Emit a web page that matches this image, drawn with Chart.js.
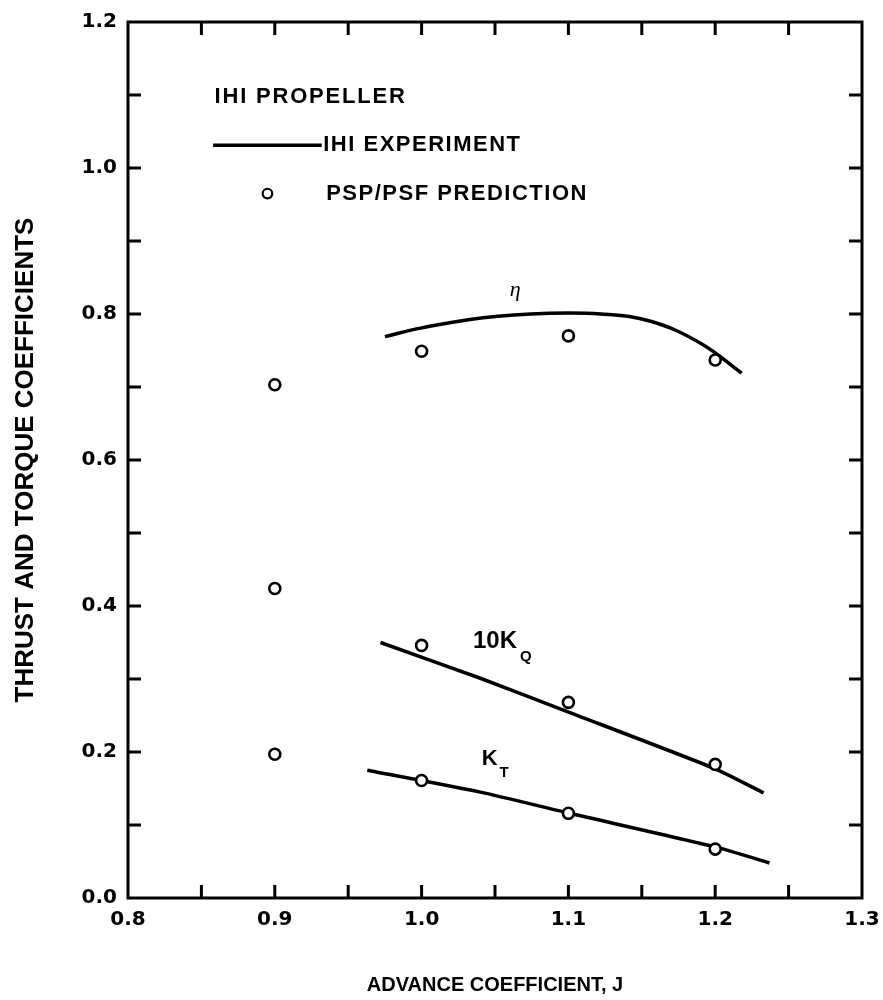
<!DOCTYPE html>
<html>
<head>
<meta charset="utf-8">
<script src="https://cdn.jsdelivr.net/npm/chart.js@4"></script>
<style>
  html, body { margin: 0; padding: 0; background: #fff; }
</style>
</head>
<body>
<canvas id="myChart" width="883" height="1000"></canvas>
<script>
// PSP/PSF prediction (circles)
const predJ = [0.9, 1.0, 1.1, 1.2]
const predEta = [0.703, 0.749, 0.770, 0.737]
const predKQ10 = [0.424, 0.346, 0.268, 0.183]
const predKT = [0.197, 0.161, 0.116, 0.067]

// IHI experiment (curves)
const expEtaJ = [0.975, 1.0, 1.042, 1.087, 1.122, 1.156, 1.19, 1.218]
const expEta = [0.769, 0.781, 0.795, 0.801, 0.800, 0.790, 0.760, 0.719]
const expKQ10J = [0.972, 1.040, 1.101, 1.2, 1.233]
const expKQ10 = [0.350, 0.301, 0.254, 0.177, 0.144]
const expKTJ = [0.963, 1.040, 1.101, 1.2, 1.237]
const expKT = [0.175, 0.145, 0.116, 0.070, 0.048]

const xTicks = [0.8, 0.9, 1.0, 1.1, 1.2, 1.3]
const yTicks = [0.0, 0.2, 0.4, 0.6, 0.8, 1.0, 1.2]

const FONT = '"Liberation Sans", Arial, sans-serif'
const TICKFONT = '"DejaVu Sans", sans-serif'
const pts = (xs, ys) => xs.map((v, i) => ({ x: v, y: ys[i] }))

const frame = {
    id: 'frame',
    afterDraw(chart) {
        const { ctx, chartArea: a, scales: { x, y } } = chart
        ctx.save()
        ctx.strokeStyle = '#000'
        ctx.fillStyle = '#000'
        ctx.lineWidth = 3
        ctx.strokeRect(a.left, a.top, a.right - a.left, a.bottom - a.top)

        // inward tick marks on all four sides
        ctx.beginPath()
        for (let v = 0.85; v < 1.29; v += 0.05) {
            const px = x.getPixelForValue(v)
            ctx.moveTo(px, a.bottom); ctx.lineTo(px, a.bottom - 13)
            ctx.moveTo(px, a.top); ctx.lineTo(px, a.top + 13)
        }
        for (let v = 0.1; v < 1.19; v += 0.1) {
            const py = y.getPixelForValue(v)
            ctx.moveTo(a.left, py); ctx.lineTo(a.left + 13, py)
            ctx.moveTo(a.right, py); ctx.lineTo(a.right - 13, py)
        }
        ctx.stroke()

        // legend
        ctx.textBaseline = 'middle'
        ctx.textAlign = 'left'
        ctx.font = 'bold 22px ' + FONT
        ctx.letterSpacing = '1.8px'
        ctx.fillText('IHI PROPELLER', x.getPixelForValue(0.859), y.getPixelForValue(1.097))
        ctx.lineWidth = 3.5
        ctx.beginPath()
        ctx.moveTo(x.getPixelForValue(0.858), y.getPixelForValue(1.031))
        ctx.lineTo(x.getPixelForValue(0.932), y.getPixelForValue(1.031))
        ctx.stroke()
        ctx.letterSpacing = '1.5px'
        ctx.fillText('IHI EXPERIMENT', x.getPixelForValue(0.933), y.getPixelForValue(1.031))
        ctx.lineWidth = 2.2
        ctx.beginPath()
        ctx.arc(x.getPixelForValue(0.895), y.getPixelForValue(0.965), 4.8, 0, Math.PI * 2)
        ctx.stroke()
        ctx.fillText('PSP/PSF PREDICTION', x.getPixelForValue(0.935), y.getPixelForValue(0.965))
        ctx.letterSpacing = '0px'

        // curve labels
        ctx.font = 'italic 22px "Liberation Serif", serif'
        ctx.fillText('η', x.getPixelForValue(1.060), y.getPixelForValue(0.833))
        ctx.font = 'bold 24px ' + FONT
        ctx.fillText('10K', x.getPixelForValue(1.035), y.getPixelForValue(0.352))
        ctx.font = 'bold 22px ' + FONT
        ctx.fillText('K', x.getPixelForValue(1.041), y.getPixelForValue(0.190))
        ctx.font = 'bold 15px ' + FONT
        ctx.fillText('Q', x.getPixelForValue(1.067), y.getPixelForValue(0.330))
        ctx.fillText('T', x.getPixelForValue(1.053), y.getPixelForValue(0.171))
        ctx.restore()
    }
}

const lineStyle = {
    type: 'line',
    showLine: true,
    borderColor: '#000',
    borderWidth: 3.5,
    pointRadius: 0,
    fill: false,
    order: 2,
}
const dotStyle = {
    type: 'scatter',
    pointStyle: 'circle',
    pointRadius: 5.5,
    pointBorderWidth: 2.6,
    borderColor: '#000',
    backgroundColor: '#fff',
    order: 1,
}

const ctx = document.getElementById('myChart')

const myChart = new Chart(ctx, {
    data: {
        datasets: [
            { ...dotStyle, label: 'eta prediction', data: pts(predJ, predEta) },
            { ...dotStyle, label: '10KQ prediction', data: pts(predJ, predKQ10) },
            { ...dotStyle, label: 'KT prediction', data: pts(predJ, predKT) },
            { ...lineStyle, label: 'eta experiment', data: pts(expEtaJ, expEta), tension: 0.4 },
            { ...lineStyle, label: '10KQ experiment', data: pts(expKQ10J, expKQ10), tension: 0.2 },
            { ...lineStyle, label: 'KT experiment', data: pts(expKTJ, expKT), tension: 0.2 },
        ]
    },
    options: {
        responsive: false,
        animation: false,
        layout: { padding: { top: 22, right: 21, left: 0, bottom: 0 } },
        plugins: {
            legend: { display: false },
            tooltip: { enabled: false },
        },
        scales: {
            x: {
                type: 'linear',
                min: 0.8,
                max: 1.3,
                afterFit: s => { s.height = 102; s.paddingLeft = 0; s.paddingRight = 0 },
                afterBuildTicks: s => { s.ticks = xTicks.map(v => ({ value: v })) },
                grid: { display: false, drawTicks: false },
                border: { display: false },
                ticks: {
                    padding: 10,
                    color: '#000',
                    font: { family: TICKFONT, size: 20, weight: 'bold' },
                    callback: v => v.toFixed(1),
                },
                title: {
                    display: true,
                    text: 'ADVANCE COEFFICIENT, J',
                    color: '#000',
                    font: { family: FONT, size: 20, weight: 'bold' },
                    padding: { top: 3, bottom: 3 },
                },
            },
            y: {
                type: 'linear',
                min: 0,
                max: 1.2,
                afterFit: s => { s.width = 128; s.paddingTop = 0; s.paddingBottom = 0 },
                afterBuildTicks: s => { s.ticks = yTicks.map(v => ({ value: v })) },
                grid: { display: false, drawTicks: false },
                border: { display: false },
                ticks: {
                    padding: 11,
                    color: '#000',
                    font: { family: TICKFONT, size: 20, weight: 'bold' },
                    callback: v => v.toFixed(1),
                },
                title: {
                    display: true,
                    text: 'THRUST AND TORQUE COEFFICIENTS',
                    color: '#000',
                    font: { family: FONT, size: 26, weight: 'bold' },
                    padding: { top: 10, bottom: 0 },
                },
            },
        },
    },
    plugins: [frame],
})
</script>
</body>
</html>
